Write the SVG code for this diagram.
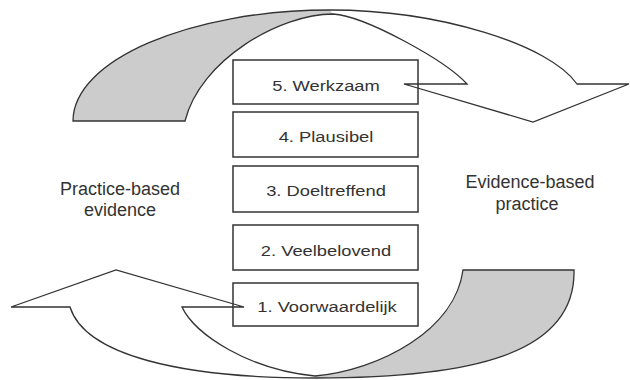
<svg xmlns="http://www.w3.org/2000/svg" width="630" height="380" viewBox="0 0 630 380">
<style>
  .box { fill: #ffffff; stroke: #333333; stroke-width: 1.5; }
  .lbl { font-family: "Liberation Sans", Arial, sans-serif; font-size: 15.4px; fill: #333333; text-anchor: middle; }
  .side { font-family: "Liberation Sans", Arial, sans-serif; font-size: 18px; fill: #333333; text-anchor: middle; }
  .band { fill: #cccccc; stroke: none; }
  .outline { fill: none; stroke: #333333; stroke-width: 1.3; stroke-linejoin: miter; }
</style>
<rect width="630" height="380" fill="#ffffff"/>
<g id="node-5">
  <rect class="box" x="233" y="60" width="185" height="44"/>
  <text class="lbl" transform="translate(326 91) scale(1.19 1)" x="0" y="0">5. Werkzaam</text>
</g>
<g id="node-4">
  <rect class="box" x="233" y="112" width="185" height="45"/>
  <text class="lbl" transform="translate(326 142) scale(1.19 1)" x="0" y="0">4. Plausibel</text>
</g>
<g id="node-3">
  <rect class="box" x="233" y="166" width="185" height="46"/>
  <text class="lbl" transform="translate(326 196) scale(1.19 1)" x="0" y="0">3. Doeltreffend</text>
</g>
<g id="node-2">
  <rect class="box" x="233" y="225" width="185" height="45"/>
  <text class="lbl" transform="translate(326 256) scale(1.19 1)" x="0" y="0">2. Veelbelovend</text>
</g>
<g id="node-1">
  <rect class="box" x="233" y="283" width="185" height="43"/>
  <text class="lbl" transform="translate(327 312) scale(1.19 1)" x="0" y="0">1. Voorwaardelijk</text>
</g>
<g id="label-practice-based-evidence">
  <text class="side" x="120" y="195">Practice-based</text>
  <text class="side" x="120" y="216">evidence</text>
</g>
<g id="label-evidence-based-practice">
  <text class="side" x="530" y="188">Evidence-based</text>
  <text class="side" x="527" y="210">practice</text>
</g>
<g id="connectors">
  <g id="arrow-top">
    <path class="band" d="M73,121 C73,60 190,10 330,10 L333,14 C280,14 200,60 185,121 Z"/>
    <path class="outline" d="M73,121 C73,60 190,10 330,10 C440,10 550,45 577,84 L629,84 L533,122 L404,84 L467,84 C445,60 365,16 333,14 C280,14 200,60 185,121 Z"/>
  </g>
  <g id="arrow-bottom">
    <path class="band" d="M463,270 L574,270 C576,355 470,378 315,378 L315,376 C380,370 455,330 463,270 Z"/>
    <path class="outline" d="M70,307 L11,307 L116,270 L244,307 L182,307 C195,335 250,370 315,376 C380,370 455,330 463,270 L574,270 C576,355 470,378 315,378 C180,378 85,355 70,307 Z"/>
  </g>
</g>
</svg>
